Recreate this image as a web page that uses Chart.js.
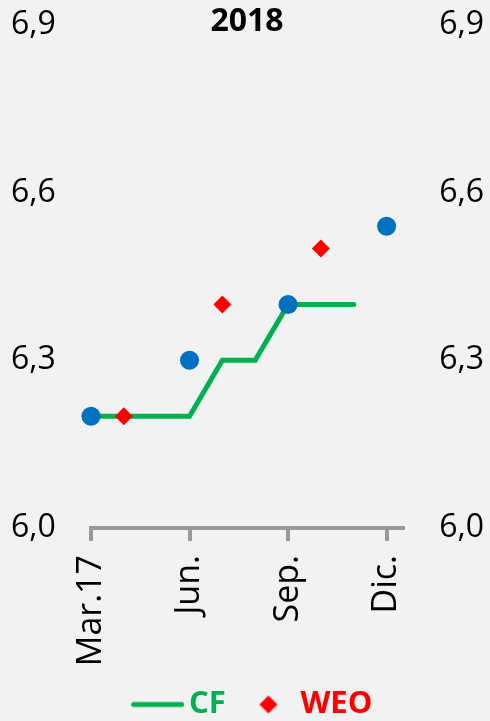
<!DOCTYPE html>
<html>
<head>
<meta charset="utf-8">
<script src="https://cdn.jsdelivr.net/npm/chart.js@4.4.1/dist/chart.umd.min.js"></script>
<style>
    html, body { margin: 0; padding: 0; background: #F2F2F2; overflow: hidden; }
    .chart-box { width: 490px; height: 721px; }
</style>
</head>
<body>
<div class="chart-box"><canvas id="myChart"></canvas></div>
<script>
    // Meses (solo se rotulan cada tres)
    var months = ['Mar.17', 'Abr.', 'May.', 'Jun.', 'Jul.', 'Ago.', 'Sep.', 'Oct.', 'Nov.', 'Dic.'];
    var cfValues = [6.2, 6.2, 6.2, 6.2, 6.3, 6.3, 6.4, 6.4, 6.4, null];
    var weoValues = [null, 6.2, null, null, 6.4, null, null, 6.5, null, null];
    var dotValues = [6.2, null, null, 6.3, null, null, 6.4, null, null, 6.54];
    var yTicks = [6.0, 6.3, 6.6, 6.9];

    var green = '#00B050';
    var red = '#FF0000';
    var blue = '#0070C0';
    var gray = '#999999';

    function toPoints(values) {
        return values
            .map((v, i) => ({ x: i, y: v }))
            .filter(p => p.y !== null);
    }

    function formatTick(v) {
        return v.toFixed(1).replace('.', ',');
    }

    // Simbolos de la leyenda (el lienzo se centra en la caja de la leyenda)
    function lineSymbol() {
        var c = document.createElement('canvas');
        c.width = 74; c.height = 8;
        var g = c.getContext('2d');
        g.strokeStyle = green;
        g.lineWidth = 5;
        g.lineCap = 'round';
        g.beginPath();
        g.moveTo(22.5, 4);
        g.lineTo(70.5, 4);
        g.stroke();
        return c;
    }

    function diamondSymbol() {
        var c = document.createElement('canvas');
        c.width = 38; c.height = 20;
        var g = c.getContext('2d');
        g.fillStyle = red;
        g.beginPath();
        g.moveTo(28, 1);
        g.lineTo(37, 10);
        g.lineTo(28, 19);
        g.lineTo(19, 10);
        g.closePath();
        g.fill();
        return c;
    }

    var font = 'Open Sans';

    var data = {
        datasets: [
            {
                label: 'Puntos',
                data: toPoints(dotValues),
                showLine: false,
                clip: false,
                pointStyle: 'circle',
                pointRadius: 9.5,
                pointBackgroundColor: blue,
                pointBorderColor: blue,
                pointBorderWidth: 0,
                order: 1
            },
            {
                label: 'WEO',
                data: toPoints(weoValues),
                showLine: false,
                clip: false,
                pointStyle: 'rectRot',
                pointRadius: 9,
                pointBackgroundColor: red,
                pointBorderColor: red,
                pointBorderWidth: 0,
                order: 2
            },
            {
                label: 'CF',
                data: toPoints(cfValues),
                showLine: true,
                clip: false,
                borderColor: green,
                borderWidth: 5,
                borderCapStyle: 'round',
                borderJoinStyle: 'miter',
                pointRadius: 0,
                tension: 0,
                order: 3
            }
        ]
    };

    var config = {
        type: 'scatter',
        data: data,
        options: {
            responsive: true,
            maintainAspectRatio: false,
            animation: false,
            layout: { padding: { left: 11, right: 6, top: 0, bottom: -9 } },
            plugins: {
                tooltip: { enabled: false },
                title: {
                    display: true,
                    text: '2018',
                    fullSize: false,
                    color: '#000',
                    font: { family: font, size: 32, weight: 'bold', lineHeight: 1.2 },
                    padding: { top: 3, bottom: -16.4 }
                },
                legend: {
                    position: 'bottom',
                    labels: {
                        usePointStyle: true,
                        pointStyleWidth: 51,
                        boxHeight: 30,
                        padding: 8,
                        font: { family: font, size: 31, weight: 'bold' },
                        generateLabels: function (chart) {
                            return [
                                { text: 'CF', fontColor: green, pointStyle: lineSymbol(), datasetIndex: 2, lineWidth: 0, strokeStyle: 'transparent', fillStyle: 'transparent', hidden: false },
                                { text: 'WEO', fontColor: red, pointStyle: diamondSymbol(), datasetIndex: 1, lineWidth: 0, strokeStyle: 'transparent', fillStyle: 'transparent', hidden: false }
                            ];
                        }
                    }
                }
            },
            scales: {
                x: {
                    type: 'linear',
                    min: 0,
                    max: 9.5,
                    afterFit: function (scale) { scale.height = 153; },
                    grid: {
                        display: true,
                        drawOnChartArea: false,
                        drawTicks: true,
                        tickLength: 13,
                        color: gray,
                        lineWidth: 4
                    },
                    border: { display: true, color: gray, width: 4 },
                    ticks: {
                        stepSize: 3,
                        includeBounds: false,
                        minRotation: 90,
                        maxRotation: 90,
                        padding: 14,
                        color: '#000',
                        font: { family: font, size: 34 },
                        callback: function (v) { return months[v] || ''; }
                    }
                },
                y: {
                    position: 'left',
                    min: yTicks[0],
                    max: yTicks[yTicks.length - 1],
                    afterFit: function (scale) { scale.width = 80; },
                    grid: { display: false },
                    border: { display: false },
                    ticks: {
                        stepSize: 0.3,
                        padding: 0,
                        crossAlign: 'far',
                        color: '#000',
                        font: { family: font, size: 32 },
                        callback: formatTick
                    }
                },
                y2: {
                    position: 'right',
                    min: yTicks[0],
                    max: yTicks[yTicks.length - 1],
                    afterFit: function (scale) { scale.width = 81; },
                    grid: { display: false },
                    border: { display: false },
                    ticks: {
                        stepSize: 0.3,
                        padding: 0,
                        crossAlign: 'far',
                        color: '#000',
                        font: { family: font, size: 32 },
                        callback: formatTick
                    }
                }
            }
        }
    };

    var myChart = new Chart(document.getElementById('myChart'), config);
</script>
</body>
</html>
